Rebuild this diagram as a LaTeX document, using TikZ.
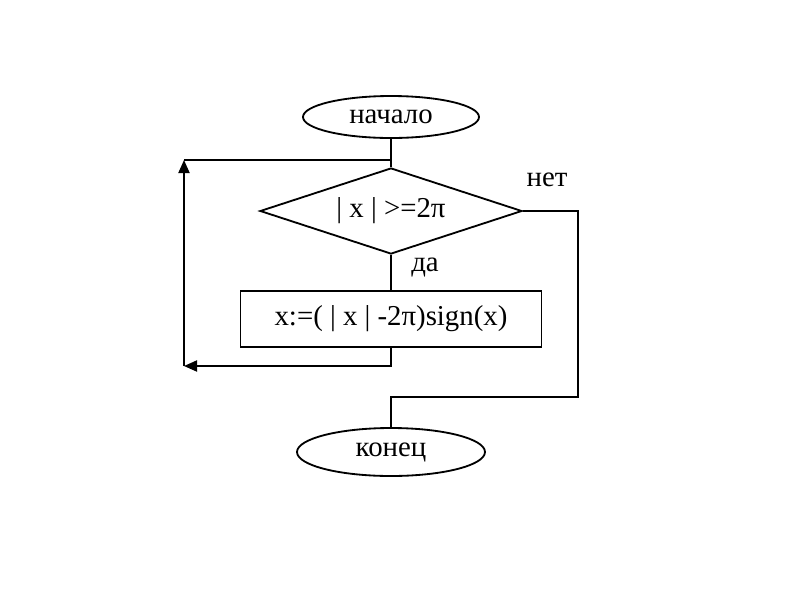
\documentclass[tikz,border=0pt]{standalone}
\usepackage{fontspec}
\setmainfont{Liberation Serif}
\usepackage{tikz}
\usetikzlibrary{shapes.geometric,arrows.meta}

\begin{document}
\begin{tikzpicture}[line width=1.3pt, font=\fontsize{20.5}{24}\selectfont,
  term/.style={draw, ellipse, inner sep=0pt},
  arr/.style={-{Triangle[length=0.33cm,width=0.28cm]}}]
\useasboundingbox (0,0) rectangle (20,-15);
\node [term, minimum width=4.4cm, minimum height=1.05cm] (start) at (9.775,-2.925) {начало};
\node [draw, diamond, aspect=3.05, inner sep=0pt, minimum width=6.55cm, minimum height=2.15cm] (cond) at (9.775,-5.275) {| x | >=2π};
\node [draw, rectangle, minimum width=7.525cm, minimum height=1.4cm] (act) at (9.775,-7.975) {x:=( | x | -2π)sign(x)};
\node [term, minimum width=4.7cm, minimum height=1.2cm] (stop) at (9.775,-11.3) {конец};
\coordinate (join) at (9.775,-4);
\coordinate (tl) at (4.6,-4);
\coordinate (bl) at (4.6,-9.15);
\coordinate (rb) at (14.45,-9.925);
\node (no) at (13.675,-4.5) {нет};
\node (yes) at (10.625,-6.7) {да};
\draw (start) -- (cond);
\draw (cond) -- (act);
\draw [arr] (act.south) |- (bl);
\draw [arr] (bl) -- (tl);
\draw (tl) -- (join);
\draw (cond.east) -| (rb) -| (stop.north);
\end{tikzpicture}
\end{document}
